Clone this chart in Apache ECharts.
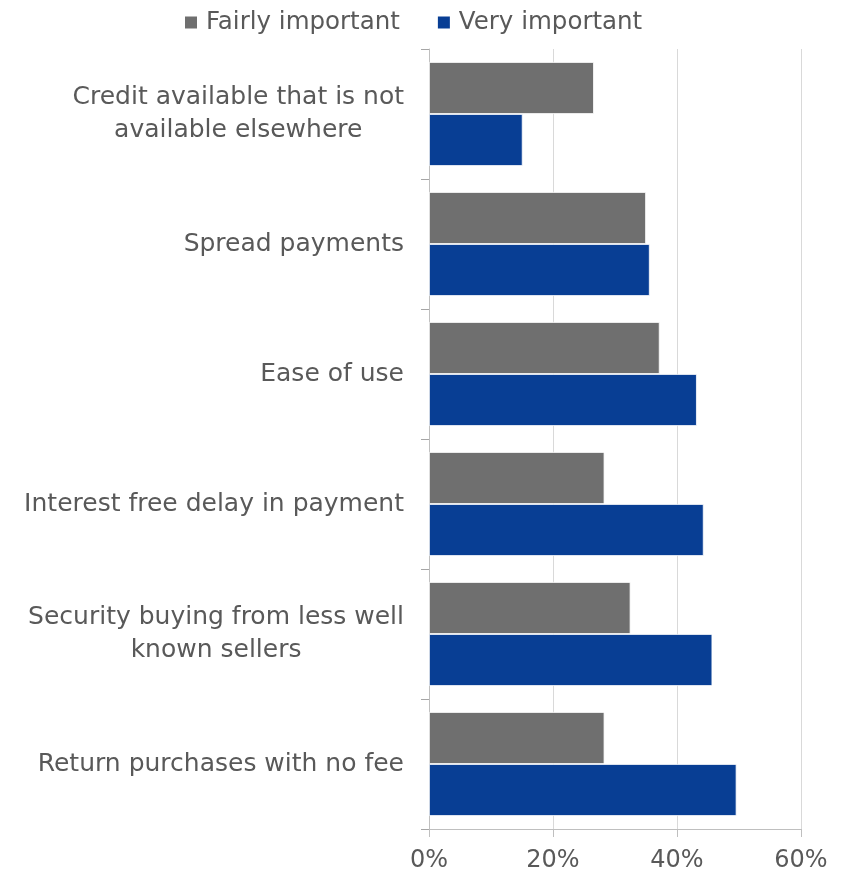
<!DOCTYPE html>
<html><head><meta charset="utf-8">
<script src="https://cdn.jsdelivr.net/npm/echarts@6/dist/echarts.min.js"></script>
<style>html,body{margin:0;padding:0;background:#fff}#c{width:843px;height:874px}</style>
</head><body><div id="c"></div>
<script>
const categories = [
  "Credit available that is not\navailable elsewhere",
  "Spread payments",
  "Ease of use",
  "Interest free delay in payment",
  "Security buying from less well\nknown sellers",
  "Return purchases with no fee"
];
const fairlyImportant = [26.6, 35.0, 37.2, 28.3, 32.5, 28.3];
const veryImportant = [15.1, 35.6, 43.2, 44.3, 45.7, 49.6];
const xTicks = [0, 20, 40, 60];

const FONT = "DejaVu Sans";
const chart = echarts.init(document.getElementById('c'), null, {renderer: 'canvas'});
chart.setOption({
  animation: false,
  textStyle: {fontFamily: FONT},
  legend: {
    top: 5, left: 178,
    itemWidth: 14, itemHeight: 14, itemGap: 36,
    icon: 'rect',
    textStyle: {fontSize: 24.5, color: '#595959', fontFamily: FONT, padding: [0, 0, 0, 3]},
    data: ['Fairly important', 'Very important']
  },
  grid: {left: 429, right: 42, top: 49, bottom: 45, containLabel: false},
  xAxis: {
    type: 'value', min: xTicks[0], max: xTicks[xTicks.length - 1], interval: 20,
    axisLine: {show: true, lineStyle: {color: '#bfbfbf', width: 1}},
    axisTick: {show: true, length: 8, lineStyle: {color: '#bfbfbf'}},
    splitLine: {show: true, lineStyle: {color: '#d9d9d9', width: 1}},
    axisLabel: {formatter: '{value}%', fontSize: 24, color: '#595959', margin: 20, fontFamily: FONT}
  },
  yAxis: {
    type: 'category', inverse: true, data: categories,
    axisLine: {show: true, lineStyle: {color: '#bfbfbf', width: 1}},
    axisTick: {show: true, length: 8, lineStyle: {color: '#a6a6a6'}},
    axisLabel: {
      margin: 25, fontSize: 25, color: '#595959', fontFamily: FONT, lineHeight: 33,
      formatter: function (v) { return v.split('\n').map(s => '{c|' + s + '}').join('\n'); },
      rich: {c: {align: 'center', fontSize: 25, color: '#595959', fontFamily: FONT, lineHeight: 33}}
    }
  },
  series: [
    {name: 'Fairly important', type: 'bar', data: fairlyImportant, barGap: '0%', barCategoryGap: '20%',
     itemStyle: {color: '#6f6f6f', borderColor: '#ffffff', borderWidth: 0.8}},
    {name: 'Very important', type: 'bar', data: veryImportant, barGap: '0%', barCategoryGap: '20%',
     itemStyle: {color: '#083e94', borderColor: '#ffffff', borderWidth: 0.8}}
  ]
});
</script></body></html>
